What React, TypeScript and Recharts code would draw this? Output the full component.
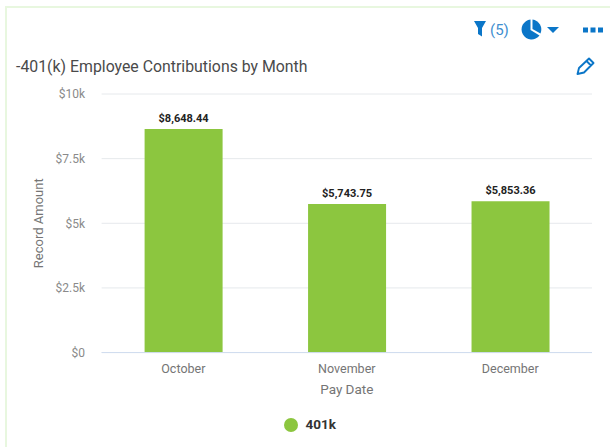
import React from 'react';
import { BarChart, Bar, XAxis, YAxis, CartesianGrid, Legend, LabelList, Label } from 'recharts';

const months = ['October', 'November', 'December'];
const contributions = [8648.44, 5743.75, 5853.36];
const yTicks = [0, 2500, 5000, 7500, 10000];
const yTickLabels = ['$0', '$2.5k', '$5k', '$7.5k', '$10k'];

const data = months.map((month, i) => ({ month, value: contributions[i] }));

const FONT = 'Roboto, sans-serif';
const BLUE = '#0b76c8';
const GREEN = '#8cc63f';

const money = (v: number) =>
  '$' + v.toLocaleString('en-US', { minimumFractionDigits: 2, maximumFractionDigits: 2 });

function Toolbar() {
  return (
    <svg width={610} height={90} style={{ position: 'absolute', left: 0, top: 0 }}>
      {/* filter */}
      <path d="M474 21 H486 L482 28 V36.5 L478 34 V28 Z" fill={BLUE} />
      <text x={490} y={35} fontSize={15} fill="#3f8fd0" fontFamily={FONT}>(5)</text>
      {/* pie */}
      <path d="M530.5 19.5 A10 10 0 1 0 539.5 35.5 L530.5 30 Z" fill={BLUE} />
      <path d="M532.5 19.6 A10 10 0 0 1 540.5 33.5 L532.5 29 Z" fill={BLUE} />
      <path d="M547 27 H559 L553 33 Z" fill={BLUE} />
      {/* more */}
      <rect x={583} y={27.5} width={5} height={5} fill={BLUE} />
      <rect x={590.5} y={27.5} width={5} height={5} fill={BLUE} />
      <rect x={598} y={27.5} width={5} height={5} fill={BLUE} />
      {/* edit */}
      <path
        d="M577.5 74 L579 68 L589 58.5 L593.5 63 L584 72.5 Z M586.5 61 L591 65.5"
        fill="none"
        stroke={BLUE}
        strokeWidth={1.9}
        strokeLinejoin="round"
      />
    </svg>
  );
}

export default function App() {
  return (
    <div style={{ position: 'absolute', left: 0, top: 0, width: 610, height: 447, background: '#fff', overflow: 'hidden' }}>
      <div
        style={{
          position: 'absolute',
          left: 5,
          top: 6,
          width: 640,
          height: 480,
          border: '2px solid #e8f7df',
        }}
      />
      <Toolbar />
      <div
        style={{
          position: 'absolute',
          left: 16,
          top: 57,
          fontFamily: FONT,
          fontSize: 15.85,
          lineHeight: '19px',
          color: '#4a4a4a',
          whiteSpace: 'nowrap',
        }}
      >
        -401(k) Employee Contributions by Month
      </div>
      <div style={{ position: 'absolute', left: 0, top: 0 }}>
        <BarChart
          width={610}
          height={447}
          data={data}
          margin={{ top: 94, right: 18, bottom: 28, left: 41.6 }}
          style={{ fontFamily: FONT }}
        >
          <CartesianGrid vertical={false} stroke="#e6e9ec" />
          <XAxis
            dataKey="month"
            axisLine={{ stroke: '#cfdcef' }}
            tickLine={false}
            tick={{ fill: '#757575', fontSize: 12.5 }}
            tickMargin={6}
            height={50}
            interval={0}
          >
            <Label value="Pay Date" position="insideBottom" offset={9} fill="#757575" fontSize={13.5} />
          </XAxis>
          <YAxis
            width={60}
            domain={[0, 10000]}
            ticks={yTicks}
            tickFormatter={(v: number) => yTickLabels[yTicks.indexOf(v)]}
            axisLine={false}
            tickLine={false}
            tick={{ fill: '#8a8a8a', fontSize: 12 }}
            tickMargin={10.6}
          >
            <Label
              value="Record Amount"
              angle={-90}
              position="insideLeft"
              offset={-3.6}
              style={{ textAnchor: 'middle' }}
              fill="#757575"
              fontSize={13}
            />
          </YAxis>
          <Legend
            verticalAlign="bottom"
            iconType="circle"
            iconSize={14}
            wrapperStyle={{ bottom: 15, left: 40, fontSize: 13.5, fontWeight: 700 }}
            formatter={(v: string) => <span style={{ color: '#333', marginLeft: 3 }}>{v}</span>}
          />
          <Bar dataKey="value" name="401k" fill={GREEN} barSize={78} isAnimationActive={false}>
            <LabelList
              dataKey="value"
              position="top"
              offset={7}
              formatter={(v: number) => money(v)}
              fill="#222"
              fontSize={11}
              fontWeight={700}
            />
          </Bar>
        </BarChart>
      </div>
    </div>
  );
}
